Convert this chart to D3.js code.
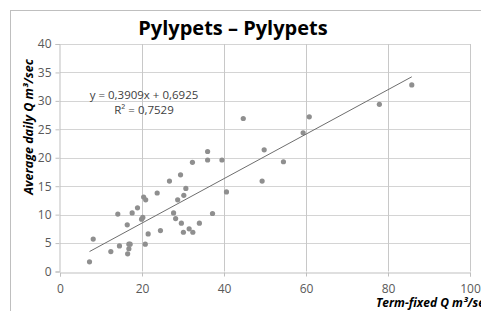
<!DOCTYPE html>
<html>
<head>
<meta charset="utf-8">
<script src="https://cdn.jsdelivr.net/npm/d3@7"></script>
<style>
  body { margin: 0; background: #fff; }
  svg { display: block; font-family: "Open Sans", sans-serif; }
</style>
</head>
<body>
<svg width="481" height="311"></svg>
<script>
// term-fixed discharge (x) vs average daily discharge (y)
var termFixed = [7.2, 8.1, 12.4, 14.1, 14.5, 16.4, 16.5, 16.8, 16.8, 17.1, 17.6, 18.9, 19.9, 20.2,
  20.4, 20.8, 20.9, 21.5, 23.7, 24.5, 26.7, 27.7, 28.2, 28.7, 29.4, 29.6, 30.1, 30.2, 30.7,
  31.5, 32.3, 32.4, 34.0, 36.0, 36.0, 37.2, 39.5, 40.6, 44.7, 49.3, 49.8, 54.5, 59.3, 60.8,
  77.9, 85.8];
var avgDaily = [1.7, 5.7, 3.5, 10.1, 4.5, 8.2, 3.1, 4.0, 4.8, 4.8, 10.3, 11.2, 9.2, 9.5,
  13.1, 4.8, 12.6, 6.6, 13.8, 7.2, 15.9, 10.3, 9.3, 12.6, 17.0, 8.5, 6.9, 13.4, 14.6,
  7.5, 19.2, 6.9, 8.5, 21.1, 19.6, 10.2, 19.6, 14.0, 26.9, 15.9, 21.4, 19.3, 24.4, 27.2,
  29.4, 32.8];
var xTicks = [0, 20, 40, 60, 80, 100];
var yTicks = [0, 5, 10, 15, 20, 25, 30, 35, 40];
var slope = 0.3909, intercept = 0.6925;

var svg = d3.select("svg");

var xScale = d3.scaleLinear().domain([0, 100]).range([60, 470]),
    yScale = d3.scaleLinear().domain([0, 40]).range([271.5, 44]);

// chart frame
svg.append("rect")
    .attr("x", 10.5).attr("y", 10.5)
    .attr("width", 480).attr("height", 310)
    .attr("fill", "none").attr("stroke", "#bfbfbf");

// grid
svg.append("g").selectAll("line").data(yTicks.slice(1))
  .enter().append("line")
    .attr("x1", xScale(0)).attr("x2", xScale(100))
    .attr("y1", function(d) { return Math.round(yScale(d)) + 0.5; })
    .attr("y2", function(d) { return Math.round(yScale(d)) + 0.5; })
    .attr("stroke", "#d4d4d4");
svg.append("g").selectAll("line").data(xTicks.slice(1))
  .enter().append("line")
    .attr("y1", yScale(0)).attr("y2", yScale(40))
    .attr("x1", function(d) { return Math.round(xScale(d)) + 0.5; })
    .attr("x2", function(d) { return Math.round(xScale(d)) + 0.5; })
    .attr("stroke", "#c8c8c8");

// axes
var xAxis = svg.append("g")
    .attr("transform", "translate(0," + (Math.round(yScale(0)) + 0.5) + ")")
    .call(d3.axisBottom(xScale).tickValues(xTicks).tickSize(4).tickPadding(8));
var yAxis = svg.append("g")
    .attr("transform", "translate(" + (Math.round(xScale(0)) - 0.5) + ",0)")
    .call(d3.axisLeft(yScale).tickValues(yTicks).tickSize(4).tickPadding(4));

svg.selectAll(".domain").attr("stroke", "#bfbfbf");
svg.selectAll(".tick line").attr("stroke", "#bfbfbf");
svg.selectAll(".tick text")
    .attr("fill", "#595959")
    .attr("font-family", "Open Sans, sans-serif")
    .attr("font-size", "12px");

// points
svg.append("g").selectAll("circle").data(termFixed)
  .enter().append("circle")
    .attr("cx", function(d) { return xScale(d); })
    .attr("cy", function(d, i) { return yScale(avgDaily[i]); })
    .attr("r", 2.6)
    .attr("fill", "#8f8f8f");

// linear trend line
var xMin = d3.min(termFixed), xMax = d3.max(termFixed);
svg.append("line")
    .attr("x1", xScale(xMin)).attr("y1", yScale(slope * xMin + intercept))
    .attr("x2", xScale(xMax)).attr("y2", yScale(slope * xMax + intercept))
    .attr("stroke", "#6e6e6e").attr("stroke-width", 1);

// equation
svg.append("text")
    .attr("x", 144).attr("y", 99)
    .attr("text-anchor", "middle")
    .attr("font-size", "11.5px").attr("fill", "#404040")
    .text("y = 0,3909x + 0,6925");
svg.append("text")
    .attr("x", 144).attr("y", 114)
    .attr("text-anchor", "middle")
    .attr("font-size", "11.5px").attr("fill", "#404040")
    .text("R² = 0,7529");

// title
svg.append("text")
    .attr("x", 233).attr("y", 35)
    .attr("text-anchor", "middle")
    .attr("font-weight", "bold")
    .attr("font-size", "20px").attr("fill", "#000")
    .text("Pylypets – Pylypets");

// axis titles
svg.append("text")
    .attr("transform", "translate(33,127) rotate(-90)")
    .attr("text-anchor", "middle")
    .attr("font-weight", "bold").attr("font-style", "italic")
    .attr("font-size", "12.5px").attr("fill", "#000")
    .text("Average daily Q m³/sec");
svg.append("text")
    .attr("x", 376).attr("y", 307)
    .attr("font-weight", "bold").attr("font-style", "italic")
    .attr("font-size", "12px").attr("fill", "#000")
    .text("Term-fixed Q m³/sec");
</script>
</body>
</html>
